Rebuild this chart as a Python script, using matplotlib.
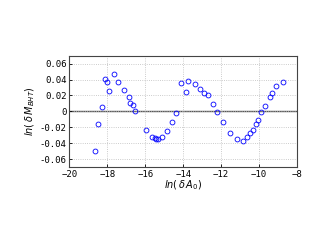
import numpy as np
import matplotlib
matplotlib.use('Agg')
import matplotlib.pyplot as plt

# data
ln_dA0 = [-18.64, -18.52, -18.31, -18.15, -18.01, -17.94, -17.67, -17.46,
          -17.13, -16.88, -16.80, -16.67, -16.52, -15.97, -15.62, -15.50,
          -15.41, -15.35, -15.13, -14.83, -14.59, -14.39, -14.10, -13.87,
          -13.76, -13.38, -13.09, -12.92, -12.71, -12.45, -12.22, -11.88,
          -11.54, -11.15, -10.85, -10.62, -10.46, -10.31, -10.17, -10.04,
          -9.87, -9.69, -9.43, -9.31, -9.12, -8.76]
ln_dM = [-0.050, -0.0156, 0.006, 0.0405, 0.037, 0.026, 0.0468, 0.037,
         0.0266, 0.0186, 0.0101, 0.0085, 0.0005, -0.024, -0.0329, -0.0337,
         -0.0346, -0.0346, -0.0329, -0.0253, -0.0134, -0.002, 0.036, 0.0237,
         0.0385, 0.0338, 0.0279, 0.0228, 0.0203, 0.0097, -0.0004, -0.0134,
         -0.0278, -0.035, -0.0367, -0.032, -0.027, -0.024, -0.0156, -0.0109,
         -0.0013, 0.0068, 0.0182, 0.0233, 0.0316, 0.0367]

xticks = [-20, -18, -16, -14, -12, -10, -8]
yticks = [-0.06, -0.04, -0.02, 0, 0.02, 0.04, 0.06]
ytick_labels = ['-0.06', '-0.04', '-0.02', '0', '0.02', '0.04', '0.06']

fig = plt.figure(figsize=(3.27, 2.43), dpi=100)
ax = fig.add_axes([0.2125, 0.3128, 0.6955, 0.4582])

ax.axhline(0, color='#555555', lw=1.0, zorder=1)
ax.plot(ln_dA0, ln_dM, 'o', mfc='none', mec='blue', ms=3.5, mew=0.6, zorder=3)

ax.set_xlim(-20, -8)
ax.set_ylim(-0.07, 0.07)
ax.set_xticks(xticks)
ax.set_yticks(yticks)
ax.set_yticklabels(ytick_labels)
ax.grid(True, ls=':', color='#bbbbbb', lw=0.6)
ax.tick_params(direction='in', length=2, width=0.6, labelsize=6.5, pad=2)
for lbl in ax.get_xticklabels() + ax.get_yticklabels():
    lbl.set_family('DejaVu Sans Mono')
for s in ax.spines.values():
    s.set_color('#444444')
    s.set_linewidth(0.8)

ax.set_xlabel(r'$ln\left(\,\delta\, A_0\right)$', fontsize=7, labelpad=0)
ax.set_ylabel(r'$ln\left(\,\delta\, M_{BHT}\right)$', fontsize=7, labelpad=2)

fig.savefig('out.png', dpi=100)
